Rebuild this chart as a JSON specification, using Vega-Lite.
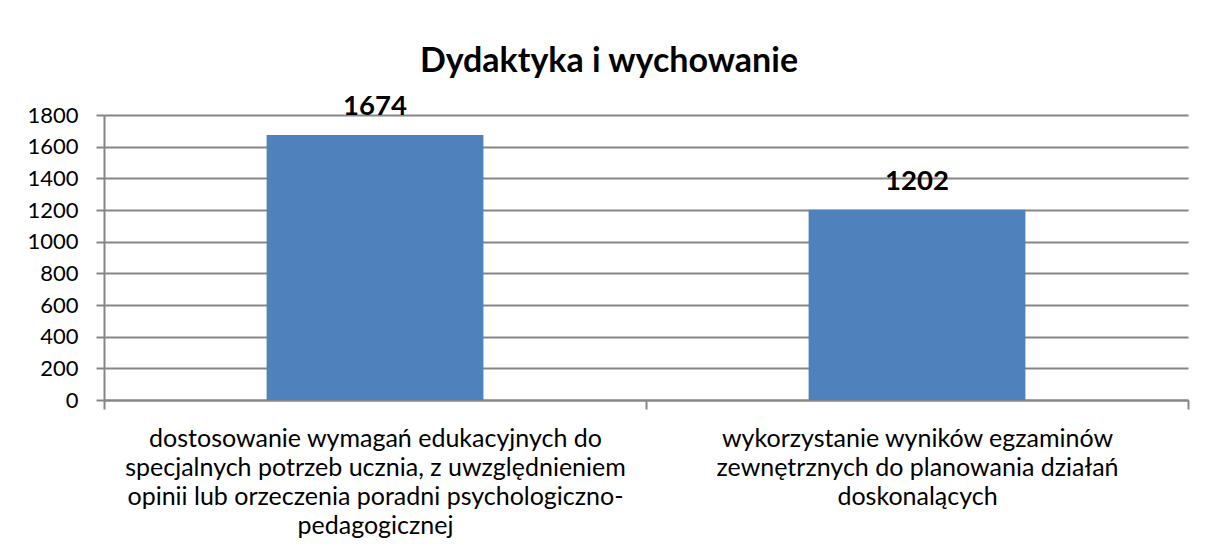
{
  "$schema": "https://vega.github.io/schema/vega-lite/v6.json",
  "width": 1084,
  "height": 285,
  "autosize": {"type": "none"},
  "padding": {"left": 104, "top": 115, "right": 17, "bottom": 155},
  "background": "white",
  "title": {
    "text": "Dydaktyka i wychowanie",
    "font": "Lato",
    "fontSize": 34,
    "fontWeight": "bold",
    "color": "black",
    "anchor": "middle",
    "baseline": "alphabetic",
    "offset": 45,
    "dy": 58,
    "dx": -37
  },
  "data": {
    "values": [
      {"kategoria": "dostosowanie wymagań edukacyjnych do specjalnych potrzeb ucznia, z uwzględnieniem opinii lub orzeczenia poradni psychologiczno-pedagogicznej", "wartosc": 1674},
      {"kategoria": "wykorzystanie wyników egzaminów zewnętrznych do planowania działań doskonalących", "wartosc": 1202}
    ]
  },
  "encoding": {
    "x": {
      "field": "kategoria",
      "type": "nominal",
      "sort": null,
      "scale": {"paddingInner": 0, "paddingOuter": 0},
      "axis": {
        "title": null,
        "labelAngle": 0,
        "labelLimit": 0,
        "labelFont": "Lato",
        "labelFontSize": 25,
        "labelColor": "black",
        "labelLineHeight": 29,
        "labelPadding": 17,
        "labelExpr": "indexof(datum.label, 'dostosowanie') == 0 ? ['dostosowanie wymagań edukacyjnych do', 'specjalnych potrzeb ucznia, z uwzględnieniem', 'opinii lub orzeczenia poradni psychologiczno-', 'pedagogicznej'] : indexof(datum.label, 'wykorzystanie') == 0 ? ['wykorzystanie wyników egzaminów', 'zewnętrznych do planowania działań', 'doskonalących'] : ''",
        "tickBand": "extent",
        "tickSize": 9,
        "tickWidth": 2,
        "tickColor": "#868686",
        "domainColor": "#868686",
        "domainWidth": 2,
        "grid": false
      }
    },
    "y": {
      "field": "wartosc",
      "type": "quantitative",
      "scale": {"domain": [0, 1800]},
      "axis": {
        "title": null,
        "values": [0, 200, 400, 600, 800, 1000, 1200, 1400, 1600, 1800],
        "format": "d",
        "labelFont": "Lato",
        "labelFontSize": 22,
        "labelColor": "black",
        "labelPadding": 18,
        "tickSize": 8,
        "tickWidth": 2,
        "tickColor": "#868686",
        "domainColor": "#868686",
        "domainWidth": 2,
        "grid": true,
        "gridColor": "#868686",
        "gridWidth": 2
      }
    }
  },
  "layer": [
    {"mark": {"type": "bar", "color": "#4F81BD", "width": {"band": 0.4}}},
    {
      "mark": {"type": "text", "font": "Lato", "fontSize": 27.5, "fontWeight": "bold", "baseline": "alphabetic", "dy": -20, "color": "black"},
      "encoding": {"text": {"field": "wartosc", "type": "quantitative"}}
    }
  ],
  "config": {"view": {"stroke": null}}
}
